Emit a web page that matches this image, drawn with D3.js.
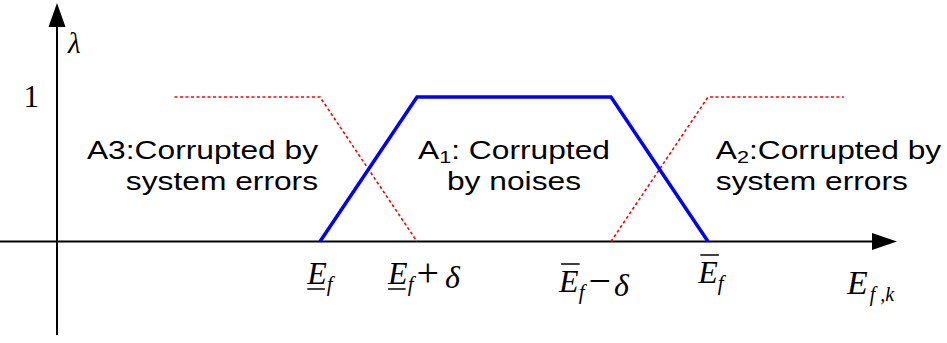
<!DOCTYPE html>
<html>
<head>
<meta charset="utf-8">
<script src="https://cdn.jsdelivr.net/npm/d3@7"></script>
<style>
  html, body { margin: 0; padding: 0; background: #fff; }
  svg { display: block; }
</style>
</head>
<body>
<svg id="chart" width="947" height="343"></svg>
<script>
// Membership functions over the fault-indicator axis E_{f,k}
// (E_f = 3, δ = 1, Ē_f = 7 in axis units)
const a1Points = [[3, 0], [4, 1], [6, 1], [7, 0]];      // A1: corrupted by noises
const a3Points = [[1.5, 1], [3, 1], [4, 0]];            // A3: corrupted by system errors (low side)
const a2Points = [[6, 0], [7, 1], [8.4, 1]];            // A2: corrupted by system errors (high side)

const xTickValues = [3, 4, 6, 7];
const yTickValues = [1];
const yTickLabels = ["1"];

// Each x tick label is a small math expression made of parts
const xTickLabels = [
  [{ t: "E", it: true, deco: "under" }, { t: "f", it: true, sub: true }],
  [{ t: "E", it: true, deco: "under" }, { t: "f", it: true, sub: true }, { t: "+", op: true, gap: 3 }, { t: "δ", it: true, gap: 6 }],
  [{ t: "E", it: true, deco: "over" }, { t: "f", it: true, sub: true }, { t: "−", op: true, gap: 4 }, { t: "δ", it: true, gap: 3 }],
  [{ t: "E", it: true, deco: "over" }, { t: "f", it: true, sub: true }]
];
const xLabelNudge = [[0, 0], [7, 0], [-17, 8], [3, -1]];

const regionLabels = [
  { lines: [[{ t: "A3:Corrupted by" }], [{ t: "system errors" }]], anchor: "end", at: 2.98 },
  { lines: [[{ t: "A" }, { t: "1", sub: true }, { t: ": Corrupted" }], [{ t: "by noises" }]], anchor: "middle", at: 5.0 },
  { lines: [[{ t: "A" }, { t: "2", sub: true }, { t: ":Corrupted by" }], [{ t: "system errors" }]], anchor: "start", at: 7.08 }
];

const svg = d3.select("#chart");

const x = d3.scaleLinear().domain([0, 9.5]).range([29, 29 + 9.5 * 97]);
const y = d3.scaleLinear().domain([0, 1]).range([241.5, 97]);

const axisX0 = 0, axisXEnd = 897;      // horizontal axis extent
const axisYx = 57, axisYTop = 3, axisYBottom = 335;

const serif = "'Liberation Serif', 'Times New Roman', serif";
const sans = "'Liberation Sans', Arial, sans-serif";

// Axes with arrow heads
svg.append("line")
  .attr("x1", axisX0).attr("x2", axisXEnd - 20)
  .attr("y1", y(0)).attr("y2", y(0))
  .attr("stroke", "#000").attr("stroke-width", 2);
svg.append("path")
  .attr("d", `M${axisXEnd},${y(0)} L${axisXEnd - 25},${y(0) - 8.5} L${axisXEnd - 25},${y(0) + 8.5} Z`)
  .attr("fill", "#000");

svg.append("line")
  .attr("x1", axisYx).attr("x2", axisYx)
  .attr("y1", axisYBottom).attr("y2", axisYTop + 20)
  .attr("stroke", "#000").attr("stroke-width", 2);
svg.append("path")
  .attr("d", `M${axisYx},${axisYTop} L${axisYx - 8.5},${axisYTop + 24} L${axisYx + 8.5},${axisYTop + 24} Z`)
  .attr("fill", "#000");

// Axis names
svg.append("text")
  .attr("x", 68).attr("y", 53)
  .attr("font-family", serif).attr("font-style", "italic").attr("font-size", 29)
  .text("λ");

const axName = svg.append("text")
  .attr("x", 847).attr("y", 294)
  .attr("font-family", serif).attr("font-style", "italic").attr("font-size", 34);
axName.append("tspan").text("E");
axName.append("tspan").attr("dy", 7).attr("dx", 2).attr("font-size", 20).text("f ,k");

// y tick label
svg.selectAll("text.ytick")
  .data(yTickValues)
  .join("text")
  .attr("class", "ytick")
  .attr("x", 39).attr("y", d => y(d) + 10)
  .attr("text-anchor", "end")
  .attr("font-family", serif).attr("font-size", 31)
  .text((d, i) => yTickLabels[i]);

// Membership curves
const line = d3.line().x(d => x(d[0])).y(d => y(d[1]));

svg.append("path")
  .datum(a3Points)
  .attr("d", line)
  .attr("fill", "none").attr("stroke", "#ff0000")
  .attr("stroke-width", 1.6).attr("stroke-dasharray", "3,2.5");

svg.append("path")
  .datum(a2Points)
  .attr("d", line)
  .attr("fill", "none").attr("stroke", "#ff0000")
  .attr("stroke-width", 1.6).attr("stroke-dasharray", "3,2.5");

svg.append("path")
  .datum(a1Points)
  .attr("d", line)
  .attr("fill", "none").attr("stroke", "#0000ff")
  .attr("stroke-width", 3.5).attr("stroke-linejoin", "miter");

// x tick labels (math expressions with under/over bars)
xTickValues.forEach((v, i) => {
  const g = svg.append("g");
  const baseY = 284 + xLabelNudge[i][1];
  const t = g.append("text")
    .attr("x", x(v) + xLabelNudge[i][0])
    .attr("y", baseY)
    .attr("text-anchor", "middle")
    .attr("font-family", serif).attr("font-size", 32);
  let shifted = 0;
  const decos = [];
  let charIdx = 0;
  xTickLabels[i].forEach(p => {
    const s = t.append("tspan").text(p.t);
    s.attr("font-style", p.it ? "italic" : "normal");
    if (p.op) s.attr("font-size", 40);
    let dy = 0;
    if (p.sub) { s.attr("font-size", 21); dy = 7 - shifted; shifted = 7; }
    else if (shifted) { dy = -shifted; shifted = 0; }
    if (p.op) dy += 2;
    if (dy) s.attr("dy", dy);
    if (p.op) shifted -= 2;
    if (p.gap) s.attr("dx", p.gap);
    if (p.deco) decos.push({ idx: charIdx, kind: p.deco });
    charIdx += p.t.length;
  });
  const node = t.node();
  decos.forEach(d => {
    const box = node.getExtentOfChar(d.idx);
    if (d.kind === "under") {
      g.append("line")
        .attr("x1", box.x).attr("x2", box.x + box.width - 2)
        .attr("y1", baseY + 5).attr("y2", baseY + 5)
        .attr("stroke", "#000").attr("stroke-width", 1.5);
    } else {
      g.append("line")
        .attr("x1", box.x + 2).attr("x2", box.x + box.width + 1)
        .attr("y1", baseY - 28).attr("y2", baseY - 28)
        .attr("stroke", "#000").attr("stroke-width", 1.5);
    }
  });
});

// Region annotations (wide sans-serif text)
const sx = 1.27;
regionLabels.forEach(r => {
  r.lines.forEach((ln, li) => {
    const g = svg.append("g")
      .attr("transform", `translate(${x(r.at)},${159 + li * 31}) scale(${sx},1)`);
    const t = g.append("text")
      .attr("text-anchor", r.anchor)
      .attr("font-family", sans).attr("font-size", 25)
      .attr("fill", "#000");
    let shifted = 0;
    ln.forEach(p => {
      const s = t.append("tspan").text(p.t);
      if (p.sub) { s.attr("font-size", 17).attr("dy", 4); shifted = 4; }
      else if (shifted) { s.attr("dy", -shifted); shifted = 0; }
    });
  });
});
</script>
</body>
</html>
